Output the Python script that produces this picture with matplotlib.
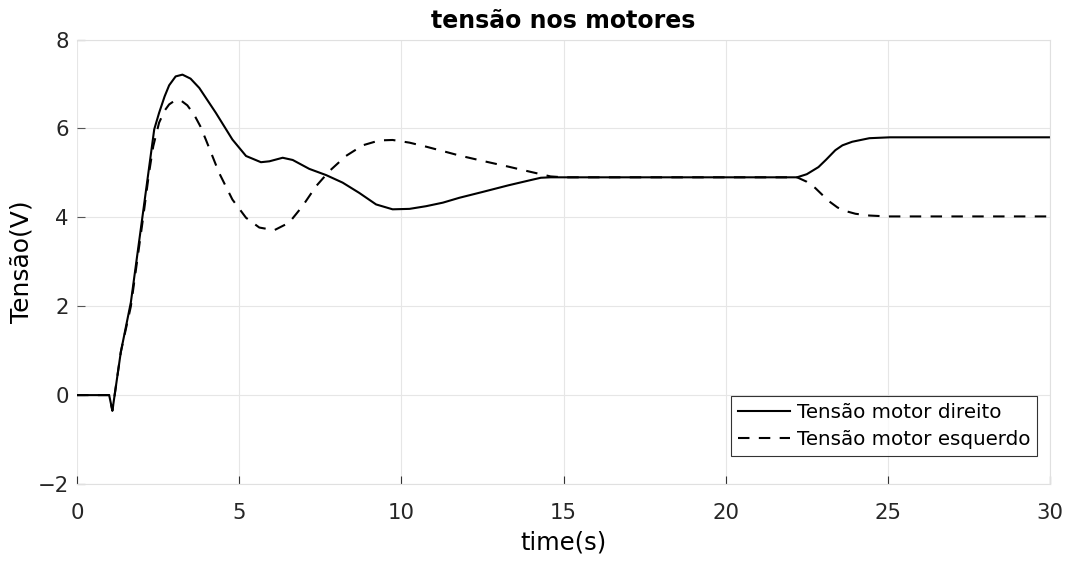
import matplotlib
matplotlib.use("Agg")
import matplotlib.pyplot as plt

t_dir = [0, 0.99, 1.09, 1.35, 1.66, 2.02, 2.38, 2.53, 2.7, 2.84, 3.04, 3.25, 3.5, 3.77, 4.28, 4.79,
         5.21, 5.67, 5.93, 6.34, 6.65, 7.16, 7.68, 8.19, 8.70, 9.22, 9.73, 10.25, 10.76,
         11.28, 11.79, 12.5, 13.3, 14.0, 14.3, 14.6, 15, 22.2, 22.5, 22.86, 23.1, 23.38, 23.6,
         23.9, 24.43, 25.06, 30]
v_dir = [0, 0, -0.35, 0.97, 2.09, 4.03, 5.98, 6.35, 6.72, 6.97, 7.17, 7.21, 7.12, 6.91, 6.35, 5.75,
         5.38, 5.24, 5.26, 5.34, 5.29, 5.09, 4.95, 4.78, 4.55, 4.29, 4.18, 4.19, 4.25,
         4.33, 4.44, 4.57, 4.72, 4.84, 4.89, 4.9, 4.9, 4.9, 4.97, 5.13, 5.3, 5.51, 5.62,
         5.70, 5.78, 5.80, 5.80]

t_esq = [0, 0.99, 1.09, 1.35, 1.66, 2.02, 2.22, 2.35, 2.53, 2.7, 2.84, 3.0, 3.2, 3.4, 3.61, 3.8,
         3.97, 4.38, 4.79, 5.21, 5.62, 6.08, 6.54, 6.95, 7.37, 7.78, 8.29, 8.81, 9.32, 9.73,
         10.25, 10.76, 11.28, 11.79, 12.5, 13.3, 14.0, 14.6, 15, 22.2, 22.5, 22.76, 23.17,
         23.45, 23.7, 24.0, 24.43, 25.0, 30]
v_esq = [0, 0, -0.35, 0.97, 2.0, 3.9, 5.0, 5.6, 6.13, 6.4, 6.54, 6.62, 6.63, 6.52, 6.31, 6.05,
         5.75, 5.0, 4.4, 3.99, 3.77, 3.71, 3.88, 4.25, 4.70, 5.04, 5.38, 5.62, 5.73, 5.74,
         5.68, 5.59, 5.49, 5.39, 5.27, 5.14, 5.02, 4.92, 4.9, 4.9, 4.8, 4.66, 4.37,
         4.22, 4.14, 4.08, 4.04, 4.02, 4.02]

x_ticks = [0, 5, 10, 15, 20, 25, 30]
y_ticks = [-2, 0, 2, 4, 6, 8]

plt.rcParams['font.family'] = ['DejaVu Sans']

fig = plt.figure(figsize=(10.73, 5.63), dpi=100)
ax = fig.add_axes([0.0718, 0.1403, 0.9068, 0.7895])

ax.plot(t_dir, v_dir, color='black', lw=1.5, label='Tensão motor direito')
ax.plot(t_esq, v_esq, color='black', lw=1.5, linestyle=(0, (5.5, 4.5)),
        label='Tensão motor esquerdo')

ax.set_xlim(0, 30)
ax.set_ylim(-2, 8)
ax.set_xticks(x_ticks)
ax.set_yticks(y_ticks)
ax.grid(True, color='#e6e6e6', lw=0.8)
for s in ax.spines.values():
    s.set_color('#e0e0e0')
    s.set_linewidth(0.8)
ax.spines['left'].set_visible(False)
ax.tick_params(axis='y', direction='in', length=6, color='#555555', labelsize=15.3, pad=6,
               labelcolor='#262626')
ax.tick_params(axis='x', direction='in', length=6, color='#333333', labelsize=15.3, pad=14,
               labelcolor='#262626')

ax.set_title('tensão nos motores', fontsize=17, fontweight='bold', pad=8.5)
ax.set_xlabel('time(s)', fontsize=17.5, labelpad=5)
ax.set_ylabel('Tensão(V)', fontsize=18, labelpad=2.5)

leg = ax.legend(loc='lower right', bbox_to_anchor=(0.9866, 0.063), fontsize=14.3,
                frameon=True, fancybox=False, handlelength=2.6, handletextpad=0.35,
                borderpad=0.35, labelspacing=0.4, borderaxespad=0)
leg.get_frame().set_edgecolor('black')
leg.get_frame().set_linewidth(0.8)

fig.savefig('out.png', dpi=100)
